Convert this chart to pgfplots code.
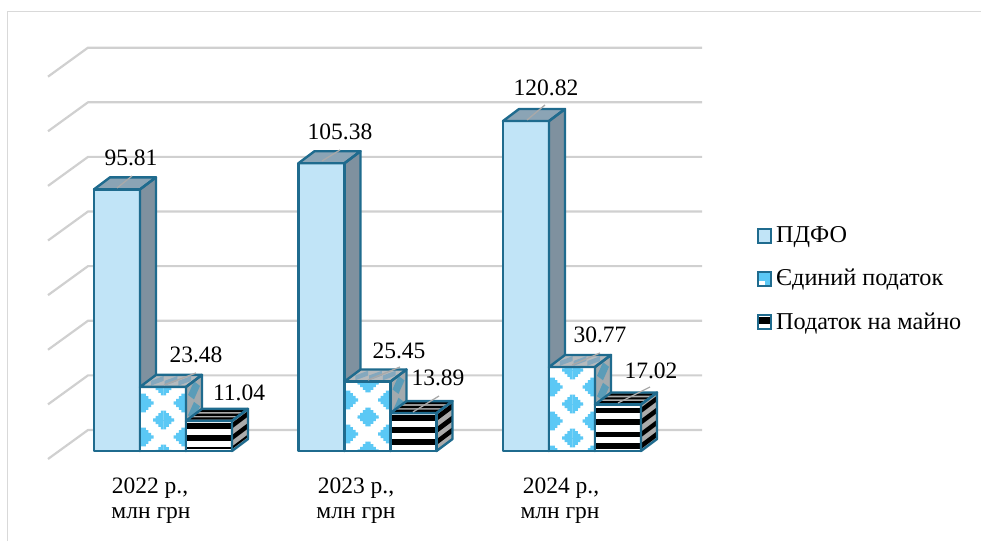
\documentclass[border=0pt]{standalone}
\usepackage{fontspec}
\setmainfont{Liberation Serif}
\usepackage{pgfplots}
\pgfplotsset{compat=1.18}
\usetikzlibrary{patterns}

% Stepped lozenge used for the light-blue surface of the middle columns
\def\Lto#1#2{\pgfpathlineto{\pgfqpoint{#1pt}{#2pt}}}
\newcommand\lozenge[2]{%
  \pgfscope
  \pgftransformshift{\pgfqpoint{#1pt}{#2pt}}%
  \pgftransformscale{1.05}%
  \pgfpathmoveto{\pgfqpoint{10pt}{-1.5pt}}%
  \Lto{10}{1.5}\Lto{7.5}{1.5}\Lto{7.5}{4}\Lto{5}{4}\Lto{5}{6.5}\Lto{2.5}{6.5}\Lto{2.5}{9}%
  \Lto{-2.5}{9}\Lto{-2.5}{6.5}\Lto{-5}{6.5}\Lto{-5}{4}\Lto{-7.5}{4}\Lto{-7.5}{1.5}\Lto{-10}{1.5}%
  \Lto{-10}{-1.5}\Lto{-7.5}{-1.5}\Lto{-7.5}{-4}\Lto{-5}{-4}\Lto{-5}{-6.5}\Lto{-2.5}{-6.5}\Lto{-2.5}{-9}%
  \Lto{2.5}{-9}\Lto{2.5}{-6.5}\Lto{5}{-6.5}\Lto{5}{-4}\Lto{7.5}{-4}\Lto{7.5}{-1.5}%
  \pgfpathclose\pgfusepath{fill}%
  \endpgfscope}
\newcommand\declarelozenges[2]{%
  \pgfdeclarepatternformonly{#1}{\pgfqpoint{0pt}{#2pt}}{\pgfqpoint{40.9pt}{\the\numexpr#2+34\relax pt}}{\pgfqpoint{40.9pt}{34pt}}{%
    \pgfmathsetmacro\cy{#2+17}\pgfmathsetmacro\ty{#2+34}%
    \lozenge{20.45}{\cy}\lozenge{0}{#2}\lozenge{40.9}{#2}\lozenge{0}{\ty}\lozenge{40.9}{\ty}}}
\declarelozenges{lozengeA}{121}
\declarelozenges{lozengeB}{124}
\declarelozenges{lozengeC}{137}

\definecolor{edge}{HTML}{1F6B8E}
\definecolor{lightcol}{HTML}{C1E4F7}
\definecolor{sidecol}{HTML}{7F919F}
\definecolor{topcol}{HTML}{8BA4B5}
\definecolor{lozcol}{HTML}{5BC8F5}
\definecolor{gridcol}{HTML}{D0D0D0}
\definecolor{framecol}{HTML}{D9D9D9}
\definecolor{leadcol}{HTML}{A9A9A9}

\newcommand\dv{4.394}% depth of a column, in value units
\newcommand\face[2]{\addplot[#1] coordinates {#2} --cycle;}

% Corner values shared by the three faces of a column: left x, value
\newcommand\corners[2]{%
  \pgfmathsetmacro\xr{#1+46}\pgfmathsetmacro\xs{#1+62}\pgfmathsetmacro\xb{#1+16}%
  \pgfmathsetmacro\vb{#2+\dv}}
\newcommand\outline[2]{%
  \corners{#1}{#2}%
  \face{draw=edge,line width=2.4pt,line join=round}{(\xr,#2)(\xs,\vb)(\xs,\dv)(\xr,0)}%
  \face{draw=edge,line width=2.4pt,line join=round}{(#1,#2)(\xr,#2)(\xs,\vb)(\xb,\vb)}%
  \face{draw=edge,line width=2.4pt,line join=round}{(#1,0)(#1,#2)(\xr,#2)(\xr,0)}}

\newcommand\plaincol[2]{%
  \corners{#1}{#2}%
  \face{fill=topcol,draw=none}{(#1,#2)(\xr,#2)(\xs,\vb)(\xb,\vb)}%
  \face{fill=sidecol,draw=none}{(\xr,#2)(\xs,\vb)(\xs,\dv)(\xr,0)}%
  \face{fill=lightcol,draw=none}{(#1,0)(#1,#2)(\xr,#2)(\xr,0)}%
  \outline{#1}{#2}}

% Lozenge on the top face: position u across, f in depth
\newcommand\toploz[4]{%
  \pgfmathsetmacro\ax{#1+46*(#3-0.14)+16*#4}\pgfmathsetmacro\bx{#1+46*#3+16*(#4+0.4)}%
  \pgfmathsetmacro\cx{#1+46*(#3+0.14)+16*#4}\pgfmathsetmacro\ex{#1+46*#3+16*(#4-0.4)}%
  \pgfmathsetmacro\my{#2+\dv*#4}\pgfmathsetmacro\hy{#2+\dv*(#4+0.4)}\pgfmathsetmacro\ly{#2+\dv*(#4-0.4)}%
  \face{fill=topdia,draw=none}{(\ax,\my)(\bx,\hy)(\cx,\my)(\ex,\ly)}}
\definecolor{topdia}{HTML}{84A8BE}
\definecolor{sidedia}{HTML}{5A9CB8}

% Lozenge on the side face: v is the height of its centre on the front edge
\newcommand\sideloz[2]{%
  \pgfmathsetmacro\ax{#1+46+2}\pgfmathsetmacro\bx{#1+46+8}\pgfmathsetmacro\cx{#1+46+14}%
  \pgfmathsetmacro\ly{#2+\dv*0.125}\pgfmathsetmacro\ry{#2+\dv*0.875}%
  \pgfmathsetmacro\hy{#2+\dv*0.5+3.3}\pgfmathsetmacro\dy{#2+\dv*0.5-3.3}%
  \face{fill=sidedia,draw=none}{(\ax,\ly)(\bx,\hy)(\cx,\ry)(\bx,\dy)}}

\newcommand\lozcol[4]{% x, value, pattern, list of side-lozenge heights
  \corners{#1}{#2}%
  \face{fill=white,draw=none}{(#1,0)(#1,#2)(\xr,#2)(\xr,0)}%
  \face{draw=none,pattern=#3,pattern color=lozcol}{(#1,0)(#1,#2)(\xr,#2)(\xr,0)}%
  \face{fill=topgray,draw=none}{(#1,#2)(\xr,#2)(\xs,\vb)(\xb,\vb)}%
  \toploz{#1}{#2}{0.2}{0.5}\toploz{#1}{#2}{0.5}{0.5}\toploz{#1}{#2}{0.8}{0.5}%
  \corners{#1}{#2}%
  \face{fill=sidegray,draw=none}{(\xr,#2)(\xs,\vb)(\xs,\dv)(\xr,0)}%
  \foreach \h in {#4} {\sideloz{#1}{\h}}%
  \outline{#1}{#2}}
\definecolor{topgray}{HTML}{B6BABD}
\definecolor{sidegray}{HTML}{A3AAAE}

% One black stripe across front and side, given by its upper and lower pixel rows
\newcommand\band[3]{%
  \pgfmathsetmacro\ta{(451-#2)/2.731}\pgfmathsetmacro\tb{(451-#3)/2.731}%
  \pgfmathsetmacro\tc{\ta+\dv}\pgfmathsetmacro\td{\tb+\dv}%
  \pgfmathsetmacro\xr{#1+46}\pgfmathsetmacro\xs{#1+62}%
  \face{fill=black,draw=none}{(#1,\ta)(\xr,\ta)(\xr,\tb)(#1,\tb)}%
  \face{fill=black,draw=none}{(\xr,\ta)(\xs,\tc)(\xs,\td)(\xr,\tb)}}
\newcommand\topband[4]{%
  \pgfmathsetmacro\ta{#2+\dv*#3}\pgfmathsetmacro\tb{#2+\dv*#4}%
  \pgfmathsetmacro\aa{#1+16*#3}\pgfmathsetmacro\ab{#1+46+16*#3}%
  \pgfmathsetmacro\ba{#1+16*#4}\pgfmathsetmacro\bb{#1+46+16*#4}%
  \face{fill=black,draw=none}{(\aa,\ta)(\ab,\ta)(\bb,\tb)(\ba,\tb)}}
\newcommand\stripecol[3]{% x, value, stripe rows
  \corners{#1}{#2}%
  \face{fill=white,draw=none}{(#1,0)(#1,#2)(\xr,#2)(\xr,0)}%
  \face{fill=stripegray,draw=none}{(\xr,#2)(\xs,\vb)(\xs,\dv)(\xr,0)}%
  \face{fill=stripegray,draw=none}{(#1,#2)(\xr,#2)(\xs,\vb)(\xb,\vb)}%
  \foreach \p/\q in {#3} {\band{#1}{\p}{\q}}%
  \topband{#1}{#2}{0.1}{0.28}\topband{#1}{#2}{0.42}{0.6}\topband{#1}{#2}{0.74}{0.92}%
  \outline{#1}{#2}}
\definecolor{stripegray}{HTML}{ABABAB}

\newcommand\leader[4]{%
  \pgfmathsetmacro\ya{(451-#2)/2.731}\pgfmathsetmacro\yb{(451-#4)/2.731}%
  \addplot[draw=leadcol,line width=1.3pt] coordinates {(#1,\ya)(#3,\yb)};}
\newcommand\lab[3]{\node[font=\fontsize{23.5}{26}\selectfont,inner sep=0pt,anchor=center]
  at (axis cs:#1,{(451-#2)/2.731}) {#3};}

\begin{document}
\begin{tikzpicture}
\useasboundingbox (0,0) rectangle (981pt,541pt);
\begin{axis}[
  at={(0pt,0pt)},anchor=south west,
  width=981pt,height=541pt,scale only axis,
  xmin=0,xmax=981,ymin=-32.955,ymax=165.14,
  hide axis,clip=false]

% chart frame
\addplot[draw=framecol,line width=1.5pt] coordinates {(7.5,-32.955)(7.5,160.9)(981,160.9)};

% back wall and floor rules, every 20 units
\foreach \g in {0,20,40,60,80,100,120,140} {
  \pgfmathsetmacro\gb{\g+7.69}\pgfmathsetmacro\gf{\g-2.93}
  \addplot[draw=gridcol,line width=2.2pt,line join=round] coordinates {(48,\gf)(88,\gb)(702,\gb)};
}

% 2022
\plaincol{94}{95.81}
\lozcol{140}{23.48}{lozengeA}{20,12.5}
\stripecol{186}{11.04}{423/428.5,435/440.5,446.5/449}
% 2023
\plaincol{298.5}{105.38}
\lozcol{344.5}{25.45}{lozengeB}{22,14}
\stripecol{390.5}{13.89}{415/421,427.3/433.3,439.3/445}
% 2024
\plaincol{503}{120.82}
\lozcol{549}{30.77}{lozengeC}{27,19.5}
\stripecol{595}{17.02}{407.7/413.3,419.3/425,431.7/437.3,443.3/449}

% leader lines towards the value labels
\leader{117}{188}{132}{176}
\leader{322}{161}{340}{150}
\leader{527}{120}{545}{105}
\leader{164}{385}{196}{373}
\leader{368}{380}{400}{367}
\leader{572}{365}{600}{353}
\leader{413}{412}{439}{396}
\leader{618}{403}{650}{387}

% value labels
\lab{131}{158}{95.81}
\lab{196}{355}{23.48}
\lab{239}{393}{11.04}
\lab{340}{132}{105.38}
\lab{399}{351}{25.45}
\lab{438}{378}{13.89}
\lab{546}{88}{120.82}
\lab{600}{335}{30.77}
\lab{651}{371}{17.02}

% category labels
\lab{150}{488}{2022 р.,}
\lab{151}{515}{млн грн}
\lab{356}{488}{2023 р.,}
\lab{356}{515}{млн грн}
\lab{561}{488}{2024 р.,}
\lab{560}{515}{млн грн}

% legend keys
\addplot[fill=lightcol,draw=edge,line width=2pt] coordinates {(758,81.3)(758,76.2)(771,76.2)(771,81.3)} --cycle;
\addplot[fill=lozcol,draw=none] coordinates {(758,65.5)(758,60.4)(771,60.4)(771,65.5)} --cycle;
\addplot[fill=white,draw=none] coordinates {(759,62.4)(759,60.4)(765,60.4)(765,62.4)} --cycle;
\addplot[draw=edge,line width=2pt] coordinates {(758,65.5)(758,60.4)(771,60.4)(771,65.5)} --cycle;
\addplot[fill=white,draw=none] coordinates {(758,49.8)(758,44.7)(771,44.7)(771,49.8)} --cycle;
\addplot[fill=black,draw=none] coordinates {(758,49.2)(758,46.6)(771,46.6)(771,49.2)} --cycle;
\addplot[draw=edge,line width=2pt] coordinates {(758,49.8)(758,44.7)(771,44.7)(771,49.8)} --cycle;

% legend texts
\node[font=\fontsize{24.2}{26}\selectfont,inner sep=0pt,anchor=base west] at (axis cs:776,{(451-243)/2.731}) {ПДФО};
\node[font=\fontsize{24.2}{26}\selectfont,inner sep=0pt,anchor=base west] at (axis cs:776,{(451-286)/2.731}) {Єдиний податок};
\node[font=\fontsize{24.2}{26}\selectfont,inner sep=0pt,anchor=base west] at (axis cs:776,{(451-329)/2.731}) {Податок на майно};
\end{axis}
\end{tikzpicture}
\end{document}
